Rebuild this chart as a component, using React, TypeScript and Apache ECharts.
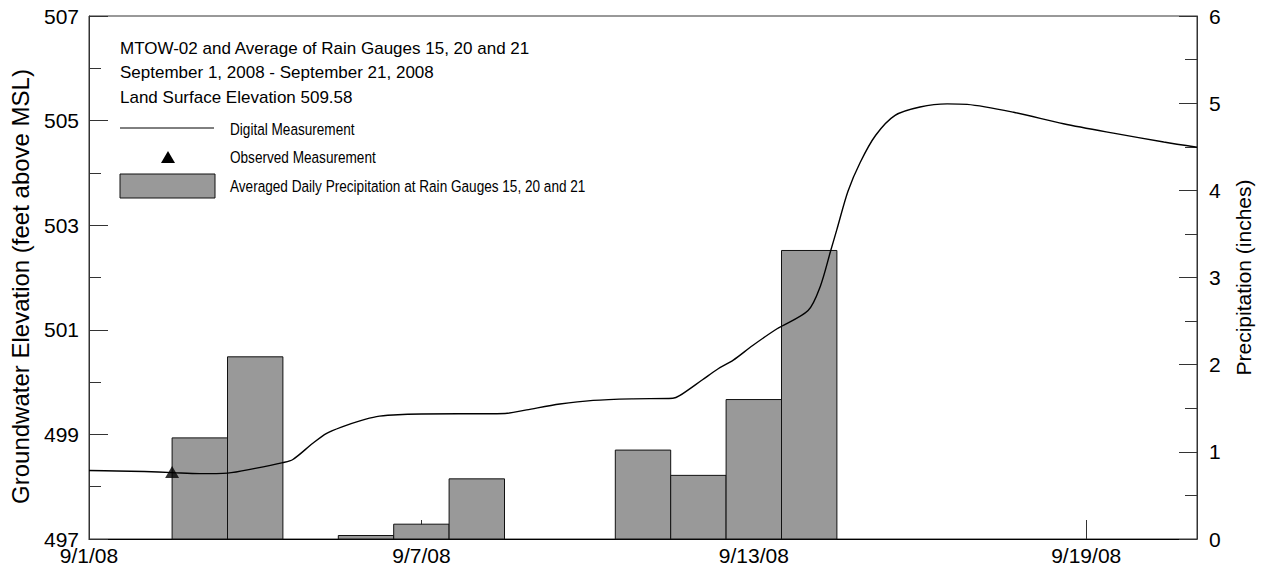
import React, { useEffect, useRef } from "react";
import * as echarts from "echarts";

// Day offsets are counted from 9/1/08 (day 0) to 9/21/08 (day 20).
const dayMin = 0;
const dayMax = 20;
const dayTickStep = 6;

// Averaged daily precipitation at rain gauges 15, 20 and 21 (inches)
const rainDays = [2, 3, 5, 6, 7, 10, 11, 12, 13];
const rainInches = [1.16, 2.09, 0.04, 0.17, 0.69, 1.02, 0.73, 1.6, 3.31];

// Continuous groundwater record at MTOW-02 (feet above MSL)
const levelDays = [
  0, 0.5, 1.0, 1.5, 2.0, 2.5, 3.0, 3.5, 3.68, 4.04, 4.29, 4.58, 4.89, 5.19,
  5.49, 6.0, 7.51, 7.9, 8.5, 9.1, 9.82, 10.54, 10.66, 11.08, 11.35, 11.63,
  11.98, 12.42, 12.98, 13.2, 13.39, 13.5, 13.7, 13.92, 14.2, 14.55, 15.0,
  15.49, 15.85, 16.69, 17.59, 18.49, 19.4, 20.0,
];
const levelFeet = [
  498.31, 498.3, 498.29, 498.27, 498.25, 498.26, 498.35, 498.46, 498.52,
  498.83, 499.02, 499.15, 499.26, 499.34, 499.37, 499.39, 499.4, 499.47,
  499.58, 499.65, 499.68, 499.69, 499.74, 500.05, 500.25, 500.42, 500.7,
  501.02, 501.37, 501.83, 502.52, 502.92, 503.65, 504.2, 504.72, 505.1,
  505.26, 505.32, 505.31, 505.16, 504.94, 504.76, 504.59, 504.49,
];

// Manual (tape) reading
const observedDays = [1.5];
const observedFeet = [498.28];

// Elevation axis labels and the minor marks between them
const elevLabels = [497, 499, 501, 503, 505, 507];
const elevMinor = [497, 498, 499, 500, 501, 502, 503, 504, 505, 506, 507];

const titleLines = [
  "MTOW-02 and Average of Rain Gauges 15, 20 and 21",
  "September 1, 2008 - September 21, 2008",
  "Land Surface Elevation 509.58",
];
const seriesNames = [
  "Digital Measurement",
  "Observed Measurement",
  "Averaged Daily Precipitation at Rain Gauges 15, 20 and 21",
];

const FONT = '"Liberation Sans", Arial, sans-serif';
const AXIS = "#333";
const BAR_FILL = "#999999";

function dayLabel(v: number): string {
  if (v % dayTickStep !== 0) return "";
  const d = new Date(2008, 8, 1 + v);
  return `${d.getMonth() + 1}/${d.getDate()}/08`;
}

export default function App() {
  const ref = useRef<HTMLDivElement>(null);

  useEffect(() => {
    if (!ref.current) return;
    const chart = echarts.init(ref.current, undefined, { renderer: "svg" });

    const rainData = rainDays.map((d, i) => [d, rainInches[i]]);
    const levelData = levelDays.map((d, i) => [d, levelFeet[i]]);
    const observedData = observedDays.map((d, i) => [d, observedFeet[i]]);

    const option: echarts.EChartsOption = {
      animation: false,
      backgroundColor: "#fff",
      textStyle: { fontFamily: FONT },
      grid: {
        left: 89,
        right: 68,
        top: 16,
        bottom: 41,
        show: true,
        borderColor: AXIS,
        borderWidth: 1,
      },
      xAxis: {
        type: "value",
        min: dayMin,
        max: dayMax,
        interval: dayTickStep,
        axisLine: { show: true, onZero: false, lineStyle: { color: "#000", width: 1 } },
        axisTick: { show: true, inside: true, length: 19, lineStyle: { color: AXIS } },
        axisLabel: {
          formatter: (v: number) => dayLabel(v),
          fontSize: 21,
          lineHeight: 18,
          color: "#000",
          margin: 7,
          fontFamily: FONT,
        },
        splitLine: { show: false },
      },
      yAxis: [
        {
          type: "value",
          position: "left",
          min: 497,
          max: 507,
          name: "Groundwater Elevation (feet above MSL)",
          nameLocation: "middle",
          nameRotate: 90,
          nameGap: 57,
          nameTextStyle: {
            fontSize: 24,
            color: "#000",
            fontFamily: FONT,
            padding: [0, 18, 0, 0],
          },
          axisLine: { show: true, lineStyle: { color: AXIS } },
          axisTick: {
            show: true,
            inside: true,
            length: 19,
            customValues: elevLabels,
            lineStyle: { color: AXIS },
          } as any,
          axisLabel: {
            customValues: elevLabels,
            fontSize: 21,
            lineHeight: 14,
            color: "#000",
            margin: 10,
            fontFamily: FONT,
          } as any,
          splitLine: { show: false },
        },
        {
          type: "value",
          position: "right",
          min: 0,
          max: 6,
          interval: 1,
          name: "Precipitation (inches)",
          nameLocation: "middle",
          nameRotate: 90,
          nameGap: 36,
          nameTextStyle: { fontSize: 21, color: "#000", fontFamily: FONT },
          axisLine: { show: true, lineStyle: { color: AXIS } },
          axisTick: { show: true, inside: true, length: 18, lineStyle: { color: AXIS } },
          minorTick: { show: true, splitNumber: 2, length: 12, lineStyle: { color: AXIS } },
          axisLabel: { fontSize: 21, color: "#000", margin: 12, fontFamily: FONT },
          splitLine: { show: false },
          minorSplitLine: { show: false },
        },
        {
          type: "value",
          position: "left",
          min: 497,
          max: 507,
          axisLine: { show: false },
          axisTick: {
            show: true,
            inside: true,
            length: 12,
            customValues: elevMinor,
            lineStyle: { color: AXIS },
          } as any,
          axisLabel: { show: false },
          splitLine: { show: false },
        },
      ],
      series: [
        {
          name: seriesNames[2],
          type: "custom",
          xAxisIndex: 0,
          yAxisIndex: 1,
          z: 2,
          encode: { x: 0, y: 1 },
          data: rainData,
          renderItem: (_params: any, api: any) => {
            const d = api.value(0);
            const v = api.value(1);
            const p0 = api.coord([d - 0.5, v]);
            const p1 = api.coord([d + 0.5, 0]);
            return {
              type: "rect",
              shape: { x: p0[0], y: p0[1], width: p1[0] - p0[0], height: p1[1] - p0[1] },
              style: { fill: BAR_FILL, stroke: "#111", lineWidth: 1 },
            };
          },
        } as any,
        {
          name: seriesNames[0],
          type: "line",
          yAxisIndex: 0,
          z: 3,
          data: levelData,
          smooth: 0.3,
          showSymbol: false,
          symbol: "none",
          lineStyle: { color: "#000", width: 1.4 },
        },
        {
          name: seriesNames[1],
          type: "scatter",
          yAxisIndex: 0,
          z: 4,
          data: observedData,
          symbol: "triangle",
          symbolSize: [14, 12],
          itemStyle: { color: "#000" },
        },
      ],
      graphic: [
        {
          type: "text",
          left: 120,
          top: 36,
          style: {
            text: titleLines.join("\n"),
            font: `17px ${FONT}`,
            lineHeight: 24.5,
            fill: "#000",
          },
        },
        {
          type: "line",
          shape: { x1: 120, y1: 128, x2: 214, y2: 128 },
          style: { stroke: "#000", lineWidth: 1 },
        },
        {
          type: "polygon",
          shape: { points: [[161, 163], [175, 163], [168, 151]] },
          style: { fill: "#000" },
        },
        {
          type: "rect",
          shape: { x: 120, y: 174, width: 95, height: 24 },
          style: { fill: BAR_FILL, stroke: "#111", lineWidth: 1 },
        },
        ...seriesNames.map((t, i) => ({
          type: "text",
          x: 230,
          y: [129, 157, 186][i],
          scaleX: 0.8,
          style: {
            text: t,
            font: `17px ${FONT}`,
            fill: "#000",
            verticalAlign: "middle",
          },
        })),
      ] as any,
    };

    chart.setOption(option);
    return () => chart.dispose();
  }, []);

  return (
    <div
      ref={ref}
      style={{ position: "absolute", left: 0, top: 0, width: 1265, height: 580, background: "#fff" }}
    />
  );
}
